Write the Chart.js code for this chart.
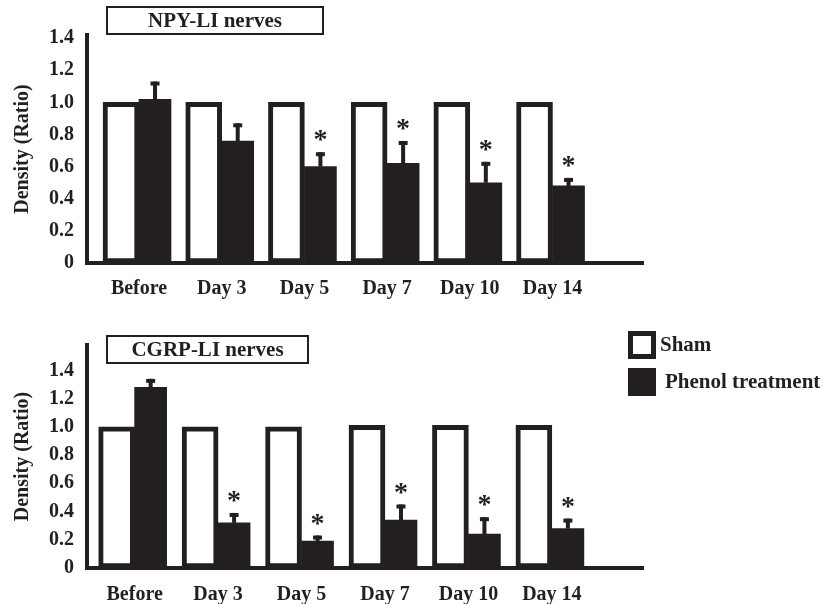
<!DOCTYPE html>
<html>
<head>
<meta charset="utf-8">
<script src="https://cdn.jsdelivr.net/npm/chart.js@4.4.0/dist/chart.umd.min.js"></script>
<style>
  body { margin: 0; background: #fff; }
  canvas { position: absolute; left: 0; }
</style>
</head>
<body>
<canvas id="npy" width="823" height="300" style="top:0"></canvas>
<canvas id="cgrp" width="823" height="304" style="top:300px"></canvas>
<script>
const days = ["Before", "Day 3", "Day 5", "Day 7", "Day 10", "Day 14"];
const yTicks = [0, 0.2, 0.4, 0.6, 0.8, 1.0, 1.2, 1.4];

// NPY-LI nerves
const npySham = [1.0, 1.0, 1.0, 1.0, 1.0, 1.0];
const npyPhenol = [1.02, 0.76, 0.60, 0.62, 0.50, 0.48];
const npyErr = [0.11, 0.11, 0.09, 0.14, 0.13, 0.05];
const npySig = [false, false, true, true, true, true];

// CGRP-LI nerves
const cgrpSham = [1.0, 1.0, 1.0, 1.01, 1.01, 1.01];
const cgrpPhenol = [1.28, 0.32, 0.19, 0.34, 0.24, 0.28];
const cgrpErr = [0.06, 0.07, 0.04, 0.11, 0.12, 0.07];
const cgrpSig = [false, true, true, true, true, true];

const ink = "#231f20";
const serif = "'Liberation Serif', 'Times New Roman', serif";

// error bars (upper only) + asterisks
const errorBars = {
  id: "errorBars",
  afterDatasetsDraw(chart, args, opts) {
    const meta = chart.getDatasetMeta(1);
    const y = chart.scales.y;
    const vals = chart.data.datasets[1].data;
    const ctx = chart.ctx;
    ctx.save();
    ctx.fillStyle = ink;
    meta.data.forEach((bar, i) => {
      const top = y.getPixelForValue(vals[i].y + opts.err[i]);
      ctx.fillRect(bar.x - 2, top, 4, bar.y - top);
      ctx.fillRect(bar.x - 4.5, top, 9, 4);
      if (opts.sig[i]) {
        ctx.font = "bold 28px " + serif;
        ctx.textAlign = "center";
        ctx.textBaseline = "middle";
        ctx.fillText("*", bar.x, top - 11);
      }
    });
    ctx.restore();
  }
};

// boxed panel title
const panelTitle = {
  id: "panelTitle",
  afterDraw(chart, args, opts) {
    const ctx = chart.ctx;
    const [x, y, w, h] = opts.box;
    ctx.save();
    ctx.fillStyle = "#fff";
    ctx.fillRect(x, y, w, h);
    ctx.strokeStyle = ink;
    ctx.lineWidth = 2;
    ctx.strokeRect(x, y, w, h);
    ctx.fillStyle = ink;
    ctx.font = "bold 21px " + serif;
    ctx.textAlign = "center";
    ctx.textBaseline = "middle";
    ctx.fillText(opts.text, x + w / 2, y + h / 2 + 1);
    ctx.restore();
  }
};

// legend on the right side
const sideLegend = {
  id: "sideLegend",
  afterDraw(chart, args, opts) {
    if (!opts.show) return;
    const ctx = chart.ctx;
    const s = opts.size;
    ctx.save();
    ctx.font = "bold 21px " + serif;
    ctx.textBaseline = "middle";
    chart.data.datasets.forEach((ds, i) => {
      const top = opts.tops[i];
      ctx.fillStyle = ds.backgroundColor;
      ctx.fillRect(opts.x, top, s, s);
      if (ds.borderWidth) {
        ctx.strokeStyle = ds.borderColor;
        ctx.lineWidth = 5;
        ctx.strokeRect(opts.x + 2.5, top + 2.5, s - 5, s - 5);
      }
      ctx.fillStyle = ink;
      ctx.fillText(ds.label, opts.textX[i], top + s / 2 + 1);
    });
    ctx.restore();
  }
};

const tickFont = { family: serif, size: 20, weight: "bold" };

function makeChart(id, sham, phenol, err, sig, cfg) {
  return new Chart(document.getElementById(id), {
    type: "bar",
    data: {
      datasets: [
        {
          label: "Sham",
          data: sham.map((v, i) => ({ x: i, y: v })),
          backgroundColor: "#fff",
          borderColor: ink,
          borderWidth: 5,
          borderSkipped: false,
          barThickness: 36
        },
        {
          label: "Phenol treatment",
          data: phenol.map((v, i) => ({ x: i, y: v })),
          backgroundColor: ink,
          borderWidth: 0,
          barThickness: 32
        }
      ]
    },
    options: {
      responsive: false,
      animation: false,
      devicePixelRatio: 1,
      layout: { padding: { top: cfg.top, right: 180, left: 0, bottom: 0 } },
      plugins: {
        legend: { display: false },
        tooltip: { enabled: false },
        errorBars: { err: err, sig: sig },
        panelTitle: { text: cfg.title, box: cfg.box },
        sideLegend: cfg.legend
      },
      scales: {
        x: {
          type: "linear",
          offset: false,
          min: cfg.xMin,
          max: cfg.xMax,
          grid: { display: false, drawTicks: false },
          border: { color: ink, width: 4 },
          afterBuildTicks: s => { s.ticks = days.map((d, i) => ({ value: i })); },
          ticks: {
            callback: v => days[v],
            color: ink,
            font: tickFont,
            padding: cfg.xPad,
            maxRotation: 0,
            autoSkip: false
          },
          afterFit: s => { s.height = cfg.xH; }
        },
        y: {
          min: 0,
          max: cfg.yMax,
          grid: { display: false, drawTicks: false },
          border: { color: ink, width: 4 },
          afterBuildTicks: s => { s.ticks = yTicks.map(v => ({ value: v })); },
          ticks: {
            callback: v => (v === 0 ? "0" : v.toFixed(1)),
            color: ink,
            font: tickFont,
            padding: 13
          },
          title: {
            display: true,
            text: "Density (Ratio)",
            color: ink,
            font: tickFont,
            padding: { top: 11, bottom: 0 }
          },
          afterFit: s => { s.width = 87; }
        }
      }
    },
    plugins: [errorBars, panelTitle, sideLegend]
  });
}

makeChart("npy", npySham, npyPhenol, npyErr, npySig, {
  top: 35, xH: 37, yMax: 1.42, xMin: -0.629, xMax: 6.094, xPad: 14,
  title: "NPY-LI nerves", box: [107, 7, 216, 27],
  legend: { show: false }
});

makeChart("cgrp", cgrpSham, cgrpPhenol, cgrpErr, cgrpSig, {
  top: 45, xH: 36, yMax: 1.58, xMin: -0.571, xMax: 6.092, xPad: 15,
  title: "CGRP-LI nerves", box: [107, 36, 201, 27],
  legend: { show: true, x: 628, size: 28, tops: [31, 68], textX: [660, 665] }
});
</script>
</body>
</html>
